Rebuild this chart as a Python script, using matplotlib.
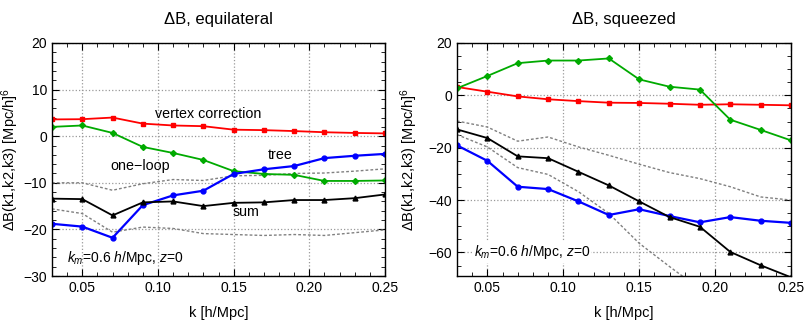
import numpy as np
import matplotlib.pyplot as plt
from matplotlib.ticker import MultipleLocator

k = [0.03, 0.05, 0.07, 0.09, 0.11, 0.13, 0.15, 0.17, 0.19, 0.21, 0.23, 0.25]

# equilateral
eq_vertex = [3.6, 3.65, 4.0, 2.7, 2.3, 2.15, 1.4, 1.3, 1.1, 0.85, 0.7, 0.6]
eq_oneloop = [2.0, 2.3, 0.7, -2.3, -3.6, -5.1, -7.5, -8.1, -8.3, -9.6, -9.6, -9.5]
eq_tree = [-18.8, -19.4, -21.8, -14.8, -12.7, -11.7, -8.1, -7.1, -6.4, -4.7, -4.2, -3.8]
eq_sum = [-13.4, -13.5, -17.0, -14.2, -14.0, -15.0, -14.3, -14.2, -13.7, -13.7, -13.3, -12.5]
eq_upper = [-10.0, -10.0, -11.6, -10.2, -9.3, -9.5, -8.5, -8.4, -8.0, -7.9, -7.5, -7.0]
eq_lower = [-15.6, -16.6, -20.6, -19.5, -19.8, -20.9, -21.1, -21.3, -21.1, -21.3, -20.7, -20.1]

# squeezed
sq_vertex = [3.2, 1.4, -0.4, -1.5, -2.2, -2.8, -2.9, -3.2, -3.6, -3.4, -3.6, -3.8]
sq_oneloop = [2.7, 7.4, 12.3, 13.3, 13.3, 14.1, 6.1, 3.3, 2.2, -9.3, -13.2, -17.2]
sq_tree = [-19.1, -25.0, -34.9, -35.8, -40.5, -45.7, -43.5, -46.1, -48.5, -46.5, -47.9, -48.7]
sq_sum = [-13.0, -16.3, -23.3, -24.0, -29.2, -34.4, -40.5, -46.5, -50.2, -59.8, -64.9, -69.5]
sq_upper = [-9.8, -12.1, -17.5, -15.9, -19.7, -22.9, -26.3, -29.5, -31.8, -34.9, -38.8, -40.0]
sq_lower = [-15.0, -19.7, -27.6, -30.2, -36.8, -45.1, -56.5, -65.4, -74.0, -82.0, -90.0, -98.0]

plt.rcParams['font.family'] = ['Liberation Sans', 'DejaVu Sans']
plt.rcParams['mathtext.fontset'] = 'custom'
plt.rcParams['mathtext.it'] = 'Liberation Sans:italic'
plt.rcParams['mathtext.rm'] = 'Liberation Sans'

fig = plt.figure(figsize=(8.05, 3.22), dpi=100)
ax1 = fig.add_axes([52 / 805, 1 - 276 / 322, 333 / 805, 233 / 322])
ax2 = fig.add_axes([457 / 805, 1 - 276 / 322, 334 / 805, 233 / 322])


def draw(ax, vertex, oneloop, tree, tot, upper, lower):
    ax.plot(k, upper, ls=(0, (2, 1.5)), color='gray', lw=1.0)
    ax.plot(k, lower, ls=(0, (2, 1.5)), color='gray', lw=1.0)
    ax.plot(k, vertex, color='#ff0000', lw=1.3, marker='s', ms=3)
    ax.plot(k, oneloop, color='#00aa00', lw=1.3, marker='D', ms=3)
    ax.plot(k, tree, color='#0000ff', lw=1.6, marker='o', ms=3.5)
    ax.plot(k, tot, color='black', lw=1.3, marker='^', ms=3.5)
    ax.set_xlim(0.03, 0.25)
    ax.xaxis.set_major_locator(MultipleLocator(0.05))
    ax.xaxis.set_minor_locator(MultipleLocator(0.01))
    ax.xaxis.set_major_formatter(plt.FormatStrFormatter('%.2f'))
    ax.grid(True, which='major', ls=':', color='#999999', lw=0.9)
    ax.tick_params(which='both', direction='in', top=True, right=True, labelsize=10)
    ax.tick_params(which='major', length=5)
    ax.tick_params(which='minor', length=3)
    ax.set_xlabel('k [h/Mpc]', fontsize=10.5, labelpad=8)
    ax.set_ylabel(r'ΔB(k1,k2,k3) [Mpc/h]$^6$', fontsize=10.5)
    for s in ax.spines.values():
        s.set_linewidth(1.0)


draw(ax1, eq_vertex, eq_oneloop, eq_tree, eq_sum, eq_upper, eq_lower)
ax1.set_ylim(-30, 20)
ax1.yaxis.set_major_locator(MultipleLocator(10))
ax1.yaxis.set_minor_locator(MultipleLocator(2))
ax1.yaxis.set_label_coords(-0.094, 0.5)
ax1.set_title('ΔB, equilateral', fontsize=12, pad=14)
ax1.text(0.133, 4.8, 'vertex correction', ha='center', va='center', fontsize=10.3)
ax1.text(0.181, -4.0, 'tree', ha='center', va='center', fontsize=10.3)
ax1.text(0.0885, -6.3, 'one\u2212loop', ha='center', va='center', fontsize=10.3)
ax1.text(0.158, -16.3, 'sum', ha='center', va='center', fontsize=10.3)
ax1.text(0.040, -26.1, r'$k_m$=0.6 $h$/Mpc, $z$=0', ha='left', va='center', fontsize=10)

draw(ax2, sq_vertex, sq_oneloop, sq_tree, sq_sum, sq_upper, sq_lower)
ax2.set_ylim(-69, 20)
ax2.yaxis.set_major_locator(MultipleLocator(20))
ax2.yaxis.set_minor_locator(MultipleLocator(5))
ax2.yaxis.set_label_coords(-0.11, 0.5)
ax2.set_title('ΔB, squeezed', fontsize=12, pad=14)
ax2.text(0.041, -60, r'$k_m$=0.6 $h$/Mpc, $z$=0', ha='left', va='center', fontsize=10,
         bbox=dict(facecolor='white', edgecolor='none', pad=1))

fig.savefig('out.png', dpi=100)
